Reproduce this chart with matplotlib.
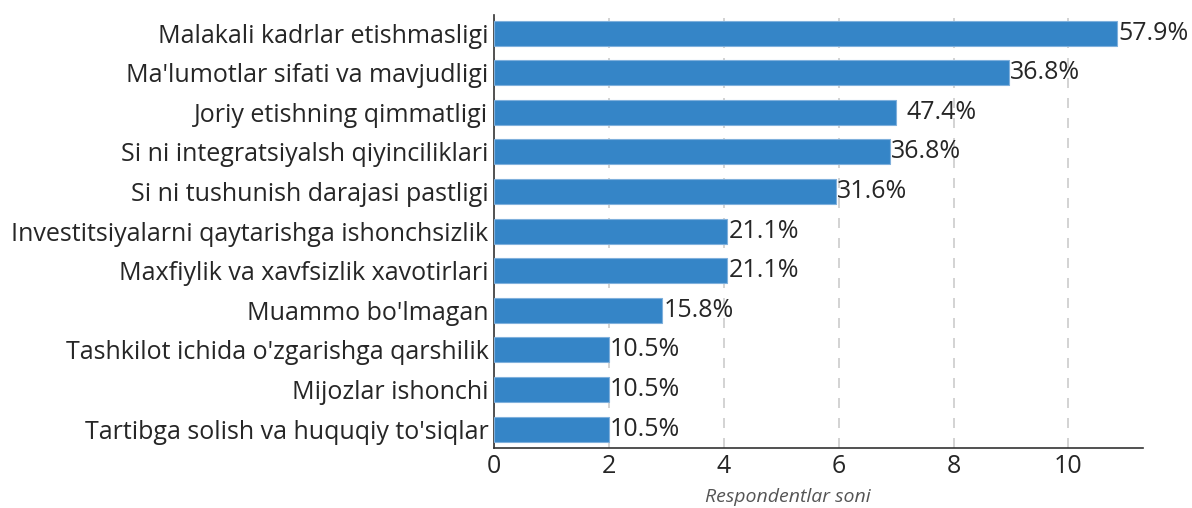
import matplotlib.pyplot as plt

# Data (top to bottom)
categories = [
    'Malakali kadrlar etishmasligi',
    "Ma'lumotlar sifati va mavjudligi",
    'Joriy etishning qimmatligi',
    'Si ni integratsiyalsh qiyinciliklari',
    'Si ni tushunish darajasi pastligi',
    'Investitsiyalarni qaytarishga ishonchsizlik',
    'Maxfiylik va xavfsizlik xavotirlari',
    "Muammo bo'lmagan",
    "Tashkilot ichida o'zgarishga qarshilik",
    'Mijozlar ishonchi',
    "Tartibga solish va huquqiy to'siqlar",
]
counts = [10.85, 8.97, 7.0, 6.89, 5.95, 4.06, 4.06, 2.93, 2.0, 2.0, 2.0]
pct_labels = ['57.9%', '36.8%', '47.4%', '36.8%', '31.6%', '21.1%',
              '21.1%', '15.8%', '10.5%', '10.5%', '10.5%']
xticks = [0, 2, 4, 6, 8, 10]

plt.rcParams['font.family'] = ['Open Sans', 'DejaVu Sans']
text_color = '#262626'
bar_color = '#3585C7'

fig = plt.figure(figsize=(11.92, 5.08), dpi=100)
ax = fig.add_axes([0.4144, 0.118, 0.5446, 0.852])

y = list(range(len(categories)))
ax.barh(y, counts, height=0.63, color=bar_color, edgecolor='#7fb0dc',
        linewidth=0.8, zorder=3)

for i, (v, lab) in enumerate(zip(counts, pct_labels)):
    pad = 0.18 if lab == '47.4%' else 0.02
    ax.text(v + pad, i, lab, va='center', ha='left', fontsize=18,
            color=text_color, zorder=4)

ax.set_yticks(y)
ax.set_yticklabels(categories, fontsize=18, color=text_color)
ax.set_ylim(len(categories) - 0.52, -0.45)
ax.set_xlim(0, 11.3)
ax.set_xticks(xticks)
ax.set_xticklabels([str(t) for t in xticks], fontsize=18, color=text_color)
ax.tick_params(axis='y', length=0, pad=4)
ax.tick_params(axis='x', length=0, pad=4)

ax.grid(axis='x', linestyle=(0, (6, 6)), color='#cccccc', linewidth=1.2, zorder=0)
ax.grid(axis='y', visible=False)

for side in ['top', 'right']:
    ax.spines[side].set_visible(False)
for side in ['left', 'bottom']:
    ax.spines[side].set_color('#333333')
    ax.spines[side].set_linewidth(1.2)

ax.set_xlabel('Respondentlar soni', fontsize=14, style='italic',
              color='#555555')
ax.xaxis.set_label_coords(0.453, -0.092)

fig.savefig('out.png', dpi=100)
